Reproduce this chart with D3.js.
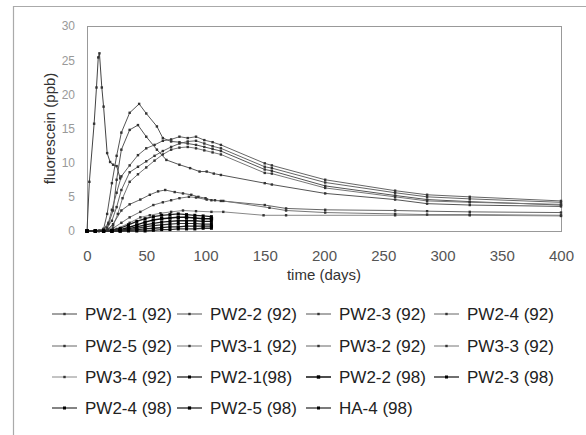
<!DOCTYPE html>
<html>
<head>
<meta charset="utf-8">
<script src="https://cdn.jsdelivr.net/npm/d3@7"></script>
<style>
  html, body { margin: 0; padding: 0; background: #fff; }
  svg { display: block; font-family: Arial, "Liberation Sans", Helvetica, sans-serif; }
</style>
</head>
<body>
<svg id="chart" width="586" height="435"></svg>
<script>
// Fluorescein breakthrough at the monitoring wells, [day, ppb]
const pw21_92 = [[0,0],[2,7.2],[6,15.7],[8,21],[9.5,25.4],[10.5,26],[12.5,21],[14,18.2],[17,11.4],[19.5,10.1],[22,9.7],[25,9.5],[28,7.7]];
const pw22_92 = [[0,0],[7,0],[14,0.3],[17,2.5],[21,7],[25,11],[29,14.4],[36,17.3],[44,18.6],[50,17.2],[59,15.3],[64,13.6],[71,13.1],[78,13.0],[85,12.8],[92,12.6],[99,12.3],[106,12.0],[113,11.7],[150,9.0],[156,8.8],[201,6.6],[260,5.2],[287,4.6],[323,4.3],[400,3.8]];
const pw23_92 = [[0,0],[7,0],[14,0.2],[18,1],[22,3],[25,7.5],[29,11.9],[36,14.8],[43,15.5],[50,13.8],[59,11.9],[67,10.4],[78,9.7],[87,9.2],[95,8.7],[101,8.7],[107,8.4],[113,8.2],[150,7.0],[156,6.8],[201,5.5],[260,4.6],[287,4.0],[323,3.8],[400,3.6]];
const pw24_92 = [[0,0],[7,0],[14,0.3],[18,1.2],[21,3.1],[25,5.6],[29,8],[36,9.6],[43,11.1],[50,12.1],[57,12.6],[64,13.2],[71,13.4],[78,13.8],[85,13.6],[92,13.8],[99,13.3],[106,13.0],[113,12.6],[150,9.9],[156,9.6],[201,7.5],[260,5.9],[287,5.3],[323,5.0],[400,4.4]];
const pw25_92 = [[0,0],[10,0],[17,0.5],[21,1.5],[25,3.5],[29,6],[36,8.6],[43,9.4],[50,10.2],[57,11],[64,11.7],[71,12.3],[78,12.8],[85,13.1],[92,13.2],[99,12.8],[106,12.4],[113,12.1],[150,9.4],[156,9.2],[201,7.1],[260,5.6],[287,5.0],[323,4.7],[400,4.2]];
const pw31_92 = [[0,0],[10,0],[18,0.2],[22,0.8],[26,2.5],[30,4.8],[36,7.2],[43,8.3],[50,9.3],[57,10.3],[64,11.2],[71,11.9],[78,12.2],[85,12.3],[92,12.1],[99,11.8],[106,11.5],[113,11.2],[150,8.5],[156,8.4],[201,6.3],[260,5.0],[287,4.4],[323,4.2],[400,3.9]];
const pw32_92 = [[0,0],[10,0],[17,0.2],[22,1],[29,3],[36,3.9],[45,4.6],[53,5.3],[60,5.8],[66,6.0],[74,5.7],[81,5.5],[88,5.3],[94,5.0],[100,4.8],[105,4.5],[113,4.4],[150,3.8],[168,3.3],[201,3.1],[260,3.0],[287,2.9],[323,2.8],[400,2.7]];
const pw33_92 = [[0,0],[14,0],[22,0.4],[29,1.2],[36,2],[45,2.8],[56,3.8],[64,4.2],[71,4.5],[78,4.8],[86,5.0],[92,4.9],[101,4.6],[108,4.5],[115,4.4],[154,3.4],[168,3.0],[201,2.7],[260,2.5],[287,2.4],[323,2.4],[400,2.3]];
const pw34_92 = [[0,0],[14,0],[25,0.3],[36,1.2],[45,2.0],[53,2.3],[62,2.6],[71,2.8],[81,3.0],[92,2.9],[105,2.8],[115,2.8],[149,2.3],[168,2.3],[260,2.3],[323,2.3],[400,2.2]];
const pw21_98 = [[0,0],[7,0],[14,0],[21,0.1],[28,0.4],[35,0.9],[42,1.4],[49,1.8],[56,2.1],[63,2.3],[70,2.4],[77,2.5],[84,2.4],[91,2.3],[98,2.2],[105,2.1]];
const pw22_98 = [[0,0],[7,0],[14,0],[21,0],[28,0.2],[35,0.5],[42,0.9],[49,1.3],[56,1.6],[63,1.8],[70,1.9],[77,2.0],[84,2.0],[91,1.9],[98,1.8],[105,1.8]];
const pw23_98 = [[0,0],[7,0],[14,0],[21,0],[28,0.1],[35,0.3],[42,0.6],[49,0.9],[56,1.1],[63,1.3],[70,1.4],[77,1.5],[84,1.5],[91,1.5],[98,1.4],[105,1.4]];
const pw24_98 = [[0,0],[7,0],[14,0],[21,0],[28,0],[35,0.2],[42,0.4],[49,0.6],[56,0.8],[63,0.9],[70,1.0],[77,1.1],[84,1.1],[91,1.1],[98,1.0],[105,1.0]];
const pw25_98 = [[0,0],[7,0],[14,0],[21,0],[28,0],[35,0.1],[42,0.2],[49,0.3],[56,0.4],[63,0.5],[70,0.6],[77,0.6],[84,0.7],[91,0.7],[98,0.7],[105,0.7]];
const ha4_98  = [[0,0],[7,0],[14,0],[21,0],[28,0],[35,0],[42,0],[49,0],[56,0.1],[63,0.2],[70,0.2],[77,0.3],[84,0.3],[91,0.3],[98,0.4],[105,0.4]];

const seriesNames = ["PW2-1 (92)","PW2-2 (92)","PW2-3 (92)","PW2-4 (92)","PW2-5 (92)","PW3-1 (92)","PW3-2 (92)","PW3-3 (92)",
                     "PW3-4 (92)","PW2-1(98)","PW2-2 (98)","PW2-3 (98)","PW2-4 (98)","PW2-5 (98)","HA-4 (98)"];
const seriesData = [pw21_92,pw22_92,pw23_92,pw24_92,pw25_92,pw31_92,pw32_92,pw33_92,pw34_92,
                    pw21_98,pw22_98,pw23_98,pw24_98,pw25_98,ha4_98];
const xTicks = [0,50,100,150,200,250,300,350,400];
const yTicks = [0,5,10,15,20,25,30];

// drawing styles, one per series (lighter thin lines for 1992, heavy black for 1998)
const lineColors = ["#444","#555","#555","#666","#666","#777","#666","#777","#888","#222","#111","#222","#333","#222","#333"];
const lineWidths = [1,1,1,1,1,1,1,1,1,1.3,1.5,1.3,1.2,1.3,1.3];
const markSizes  = [2.4,2.4,2.4,2.4,2.4,2.4,2.4,2.4,2.4,3,3.4,3,3,3.2,3];

const svg = d3.select("#chart");

// outer frame (left and top edges)
svg.append("path").attr("d","M13.5,435V6.5H586").attr("fill","none").attr("stroke","#aaa").attr("stroke-width",1.2);

const x = d3.scaleLinear().domain([0,400]).range([87,561]);
const y = d3.scaleLinear().domain([0,30]).range([231,26]);

// plot box
svg.append("rect").attr("x",x(0)+0.5).attr("y",y(30)+0.5).attr("width",x(400)-x(0)).attr("height",y(0)-y(30))
  .attr("fill","#fff").attr("stroke","#999").attr("stroke-width",1);

// axes (labels only, no tick marks)
const xAxis = svg.append("g").attr("transform",`translate(0,${y(0)})`)
  .call(d3.axisBottom(x).tickValues(xTicks).tickSize(0).tickPadding(19).tickFormat(d3.format("d")));
xAxis.select(".domain").remove();
xAxis.selectAll("text").attr("font-size",15).attr("fill","#555").attr("font-family","Arial, Liberation Sans, sans-serif");

const yAxis = svg.append("g").attr("transform",`translate(${x(0)},0)`)
  .call(d3.axisLeft(y).tickValues(yTicks).tickSize(0).tickPadding(12).tickFormat(d3.format("d")));
yAxis.select(".domain").remove();
yAxis.selectAll("text").attr("font-size",12).attr("fill","#999").attr("font-family","Arial, Liberation Sans, sans-serif");

svg.append("text").attr("x",(x(0)+x(400))/2).attr("y",280).attr("text-anchor","middle")
  .attr("font-size",15).attr("fill","#333").text("time (days)");
svg.append("text").attr("transform",`translate(55,${(y(0)+y(30))/2}) rotate(-90)`).attr("text-anchor","middle")
  .attr("font-size",15).attr("fill","#333").text("fluorescein (ppb)");

// series lines and point markers
const line = d3.line().x(d => x(d[0])).y(d => y(d[1]));
const plot = svg.append("g");
seriesData.forEach((data,i) => {
  plot.append("path").datum(data).attr("d",line).attr("fill","none")
    .attr("stroke",lineColors[i]).attr("stroke-width",lineWidths[i]).attr("stroke-linejoin","round");
});
seriesData.forEach((data,i) => {
  const s = markSizes[i];
  plot.selectAll(null).data(data).join("rect")
    .attr("x",d => x(d[0]) - s/2).attr("y",d => y(d[1]) - s/2)
    .attr("width",s).attr("height",s).attr("fill",i < 9 ? "#333" : "#000");
});

// legend: 4 columns
const colLine = [52,177,306,434];
const rowY = [314,346,377,408];
const legend = svg.append("g");
seriesNames.forEach((name,i) => {
  const c = i % 4, r = Math.floor(i / 4);
  const g = legend.append("g").attr("transform",`translate(${colLine[c]},${rowY[r]})`);
  g.append("line").attr("x1",0).attr("x2",25).attr("y1",0).attr("y2",0)
    .attr("stroke",lineColors[i]).attr("stroke-width",lineWidths[i]);
  const s = markSizes[i];
  g.append("rect").attr("x",12.5 - s/2).attr("y",-s/2).attr("width",s).attr("height",s)
    .attr("fill",i < 9 ? "#333" : "#000");
  g.append("text").attr("x",33).attr("y",6).attr("font-size",17).attr("fill","#222").text(name);
});
</script>
</body>
</html>
